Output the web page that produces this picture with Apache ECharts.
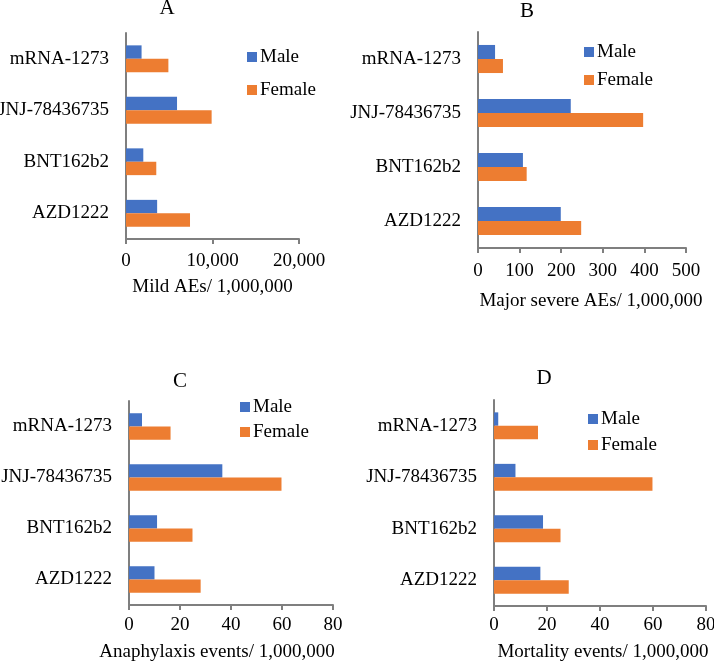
<!DOCTYPE html>
<html>
<head>
<meta charset="utf-8">
<script src="https://cdn.jsdelivr.net/npm/echarts@6/dist/echarts.min.js"></script>
<style>html,body{margin:0;padding:0;background:#fff;}#c{width:714px;height:663px;}</style>
</head>
<body>
<div id="c"></div>
<script>
const categories = ['AZD1222', 'BNT162b2', 'JNJ-78436735', 'mRNA-1273'];
const panelTitles = ['A', 'B', 'C', 'D'];
const axisNames = ['Mild AEs/ 1,000,000', 'Major severe AEs/ 1,000,000', 'Anaphylaxis events/ 1,000,000', 'Mortality events/ 1,000,000'];
const mildMale = [3600, 2000, 5900, 1800];
const mildFemale = [7400, 3500, 9900, 4900];
const severeMale = [199, 108, 223, 41];
const severeFemale = [248, 117, 397, 60];
const anaMale = [10, 11, 36.6, 5.1];
const anaFemale = [28.1, 24.9, 59.8, 16.3];
const mortMale = [17.5, 18.5, 8.1, 1.6];
const mortFemale = [28.2, 25.1, 59.8, 16.6];
const xMax = [20000, 500, 80, 80];
const xInterval = [10000, 100, 20, 20];

const maleData = [mildMale, severeMale, anaMale, mortMale];
const femaleData = [mildFemale, severeFemale, anaFemale, mortFemale];

const FONT = 'Liberation Serif';
const FS = 19;
const BLUE = '#4472C4', ORANGE = '#ED7D31', GREY = '#7F7F7F';

const grids = [
  {left: 126, top: 33, width: 173, height: 206},
  {left: 478, top: 32, width: 208, height: 216},
  {left: 129, top: 401, width: 204, height: 204},
  {left: 494, top: 400, width: 212, height: 206}
].map(g => Object.assign(g, {containLabel: false, outerBoundsMode: 'none'}));
const titlePos = [[167, 8.5], [527, 11.7], [180, 381], [544, 378]];
const nameGap = [39, 44, 38, 37];
const namePad = [[0,0,0,0],[0,0,0,18],[0,28,0,0],[0,0,0,6]];
const labelMargin = [13, 14, 11, 10];
const legendPos = [[247, 47, 13], [584, 42, 8], [240, 397, 5], [588, 409, 6]];

const option = {
  backgroundColor: '#fff',
  animation: false,
  textStyle: {fontFamily: FONT},
  title: panelTitles.map((t, i) => ({
    text: t, left: titlePos[i][0], top: titlePos[i][1] - 10, textAlign: 'center', padding: 0,
    textStyle: {fontFamily: FONT, fontSize: 21, fontWeight: 'normal', color: '#000', lineHeight: 20}
  })),
  legend: legendPos.map((p, i) => ({
    data: ['Male', 'Female'], orient: 'vertical', left: p[0], top: p[1], itemGap: p[2],
    itemWidth: 10, itemHeight: 10, icon: 'rect', padding: 0, selectedMode: false,
    textStyle: {fontFamily: FONT, fontSize: FS, color: '#000', lineHeight: 20, padding: [0, 0, 0, -2]}
  })),
  grid: grids,
  xAxis: grids.map((g, i) => ({
    type: 'value', gridIndex: i, min: 0, max: xMax[i], interval: xInterval[i],
    name: axisNames[i], nameLocation: 'middle', nameGap: nameGap[i],
    nameTextStyle: {fontFamily: FONT, fontSize: FS, color: '#000', padding: namePad[i]},
    axisLine: {show: true, lineStyle: {color: GREY, width: 2}},
    axisTick: {show: true, length: 5, lineStyle: {color: GREY, width: 2}},
    splitLine: {show: false},
    axisLabel: {fontFamily: FONT, fontSize: FS, color: '#000', margin: labelMargin[i],
      formatter: v => v.toLocaleString('en-US')}
  })),
  yAxis: grids.map((g, i) => ({
    type: 'category', gridIndex: i, data: categories,
    axisLine: {show: true, lineStyle: {color: GREY, width: 2}},
    axisTick: {show: false},
    axisLabel: {fontFamily: FONT, fontSize: FS, color: '#000', margin: 17}
  })),
  series: []
};
for (let i = 0; i < 4; i++) {
  option.series.push({
    name: 'Male', type: 'bar', xAxisIndex: i, yAxisIndex: i, data: maleData[i],
    itemStyle: {color: BLUE}, barGap: '0%', barCategoryGap: '48%'
  });
  option.series.push({
    name: 'Female', type: 'bar', xAxisIndex: i, yAxisIndex: i, data: femaleData[i],
    itemStyle: {color: ORANGE}, barGap: '0%', barCategoryGap: '48%'
  });
}
const chart = echarts.init(document.getElementById('c'), null, {renderer: 'canvas'});
chart.setOption(option);
</script>
</body>
</html>
